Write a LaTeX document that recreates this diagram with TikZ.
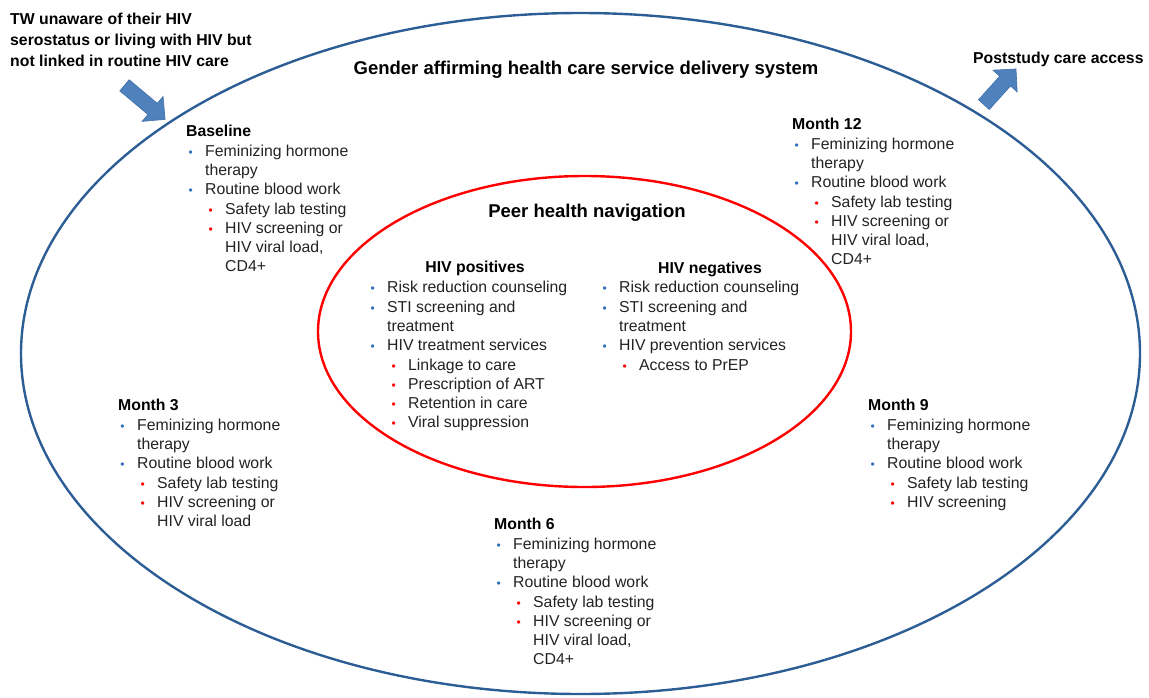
\documentclass[tikz,border=0pt]{standalone}
\usepackage{fontspec}
\setmainfont{Liberation Sans}
\usetikzlibrary{shapes,shapes.arrows}

\definecolor{sysblue}{HTML}{2C5D95}
\definecolor{navred}{HTML}{FF0000}
\definecolor{bulblue}{HTML}{2F6EBA}
\definecolor{bulred}{HTML}{FF0000}
\definecolor{arrowfill}{HTML}{4F81BD}
\definecolor{arrowedge}{HTML}{3F6FA8}
\definecolor{bodytext}{HTML}{222222}

% bullets: #1 = indent of the text
\newcommand{\bulsym}{{\fontsize{12}{12}\selectfont\textbullet}}
\newcommand{\ba}[2]{\hspace*{#1}\llap{\textcolor{bulblue}{\bulsym}\hspace{12.5pt}}#2}
\newcommand{\br}[2]{\hspace*{#1}\llap{\textcolor{bulred}{\bulsym}\hspace{12.5pt}}#2}
\newcommand{\cn}[2]{\hspace*{#1}#2}

\begin{document}
\begin{tikzpicture} [x=1pt, y=-1pt,
  system/.style={ellipse, draw=sysblue, line width=2.4pt, inner sep=0pt},
  navigation/.style={ellipse, draw=navred, line width=2.4pt, inner sep=0pt},
  visit/.style={anchor=north west, inner sep=0pt, align=left, text=bodytext, font=\fontsize{15.8}{19.3}\selectfont},
  heading/.style={inner sep=0pt, text=black, font=\bfseries\fontsize{15.8}{21}\selectfont},
  title/.style={inner sep=0pt, anchor=base, text=black, font=\bfseries\fontsize{18.5}{22}\selectfont},
  flow/.style={single arrow, draw=arrowedge, fill=arrowfill, line width=0.6pt, inner xsep=0pt, inner ysep=7pt, single arrow head extend=9pt}]
  \useasboundingbox (0,0) rectangle (1149,697);

  % Service delivery system
  \node [system, minimum width=1119pt, minimum height=681pt] (system) at (580.5,353.5) {};
  \node [title] (systitle) at (586,74.5) {Gender affirming health care service delivery system};

  % Peer health navigation
  \node [navigation, minimum width=533pt, minimum height=311pt] (peer) at (584.5,331.5) {};
  \node [title] (peertitle) at (587,217.6) {Peer health navigation};

  % Entry and exit
  \node [heading, anchor=north west, align=left] (entry) at (10,12.7) {TW unaware of their HIV\\serostatus or living with HIV but\\not linked in routine HIV care};
  \node [heading, anchor=base west] (exit) at (973,63.5) {Poststudy care access};
  \node [flow, rotate=-40, minimum height=53pt] (arrowin) at (142,100) {};
  \node [flow, rotate=48, minimum height=48pt] (arrowout) at (997.5,89.5) {};

  % Visits
  \node [visit] (baseline) at (186,125.2) {\textbf{\textcolor{black}{Baseline}}\\
    \ba{19pt}{Feminizing hormone}\\
    \cn{19pt}{therapy}\\
    \ba{19pt}{Routine blood work}\\
    \br{39pt}{Safety lab testing}\\
    \br{39pt}{HIV screening or}\\
    \cn{39pt}{HIV viral load,}\\
    \cn{39pt}{CD4+}};
  \node [visit] (month3) at (118,399.2) {\textbf{\textcolor{black}{Month 3}}\\
    \ba{19pt}{Feminizing hormone}\\
    \cn{19pt}{therapy}\\
    \ba{19pt}{Routine blood work}\\
    \br{39pt}{Safety lab testing}\\
    \br{39pt}{HIV screening or}\\
    \cn{39pt}{HIV viral load}};
  \node [visit] (month6) at (494,518.2) {\textbf{\textcolor{black}{Month 6}}\\
    \ba{19pt}{Feminizing hormone}\\
    \cn{19pt}{therapy}\\
    \ba{19pt}{Routine blood work}\\
    \br{39pt}{Safety lab testing}\\
    \br{39pt}{HIV screening or}\\
    \cn{39pt}{HIV viral load,}\\
    \cn{39pt}{CD4+}};
  \node [visit] (month9) at (868,399.2) {\textbf{\textcolor{black}{Month 9}}\\
    \ba{19pt}{Feminizing hormone}\\
    \cn{19pt}{therapy}\\
    \ba{19pt}{Routine blood work}\\
    \br{39pt}{Safety lab testing}\\
    \br{39pt}{HIV screening}};
  \node [visit] (month12) at (792,118.2) {\textbf{\textcolor{black}{Month 12}}\\
    \ba{19pt}{Feminizing hormone}\\
    \cn{19pt}{therapy}\\
    \ba{19pt}{Routine blood work}\\
    \br{39pt}{Safety lab testing}\\
    \br{39pt}{HIV screening or}\\
    \cn{39pt}{HIV viral load,}\\
    \cn{39pt}{CD4+}};

  % Navigation services
  \node [heading, anchor=base] (poshead) at (475,272.5) {HIV positives};
  \node [visit] (poslist) at (373,281.2) {\ba{14pt}{Risk reduction counseling}\\
    \ba{14pt}{STI screening and}\\
    \cn{14pt}{treatment}\\
    \ba{14pt}{HIV treatment services}\\
    \br{35pt}{Linkage to care}\\
    \br{35pt}{Prescription of ART}\\
    \br{35pt}{Retention in care}\\
    \br{35pt}{Viral suppression}};
  \node [heading, anchor=base] (neghead) at (710,273.5) {HIV negatives};
  \node [visit] (neglist) at (604,281.2) {\ba{15pt}{Risk reduction counseling}\\
    \ba{15pt}{STI screening and}\\
    \cn{15pt}{treatment}\\
    \ba{15pt}{HIV prevention services}\\
    \br{35pt}{Access to PrEP}};
\end{tikzpicture}
\end{document}
